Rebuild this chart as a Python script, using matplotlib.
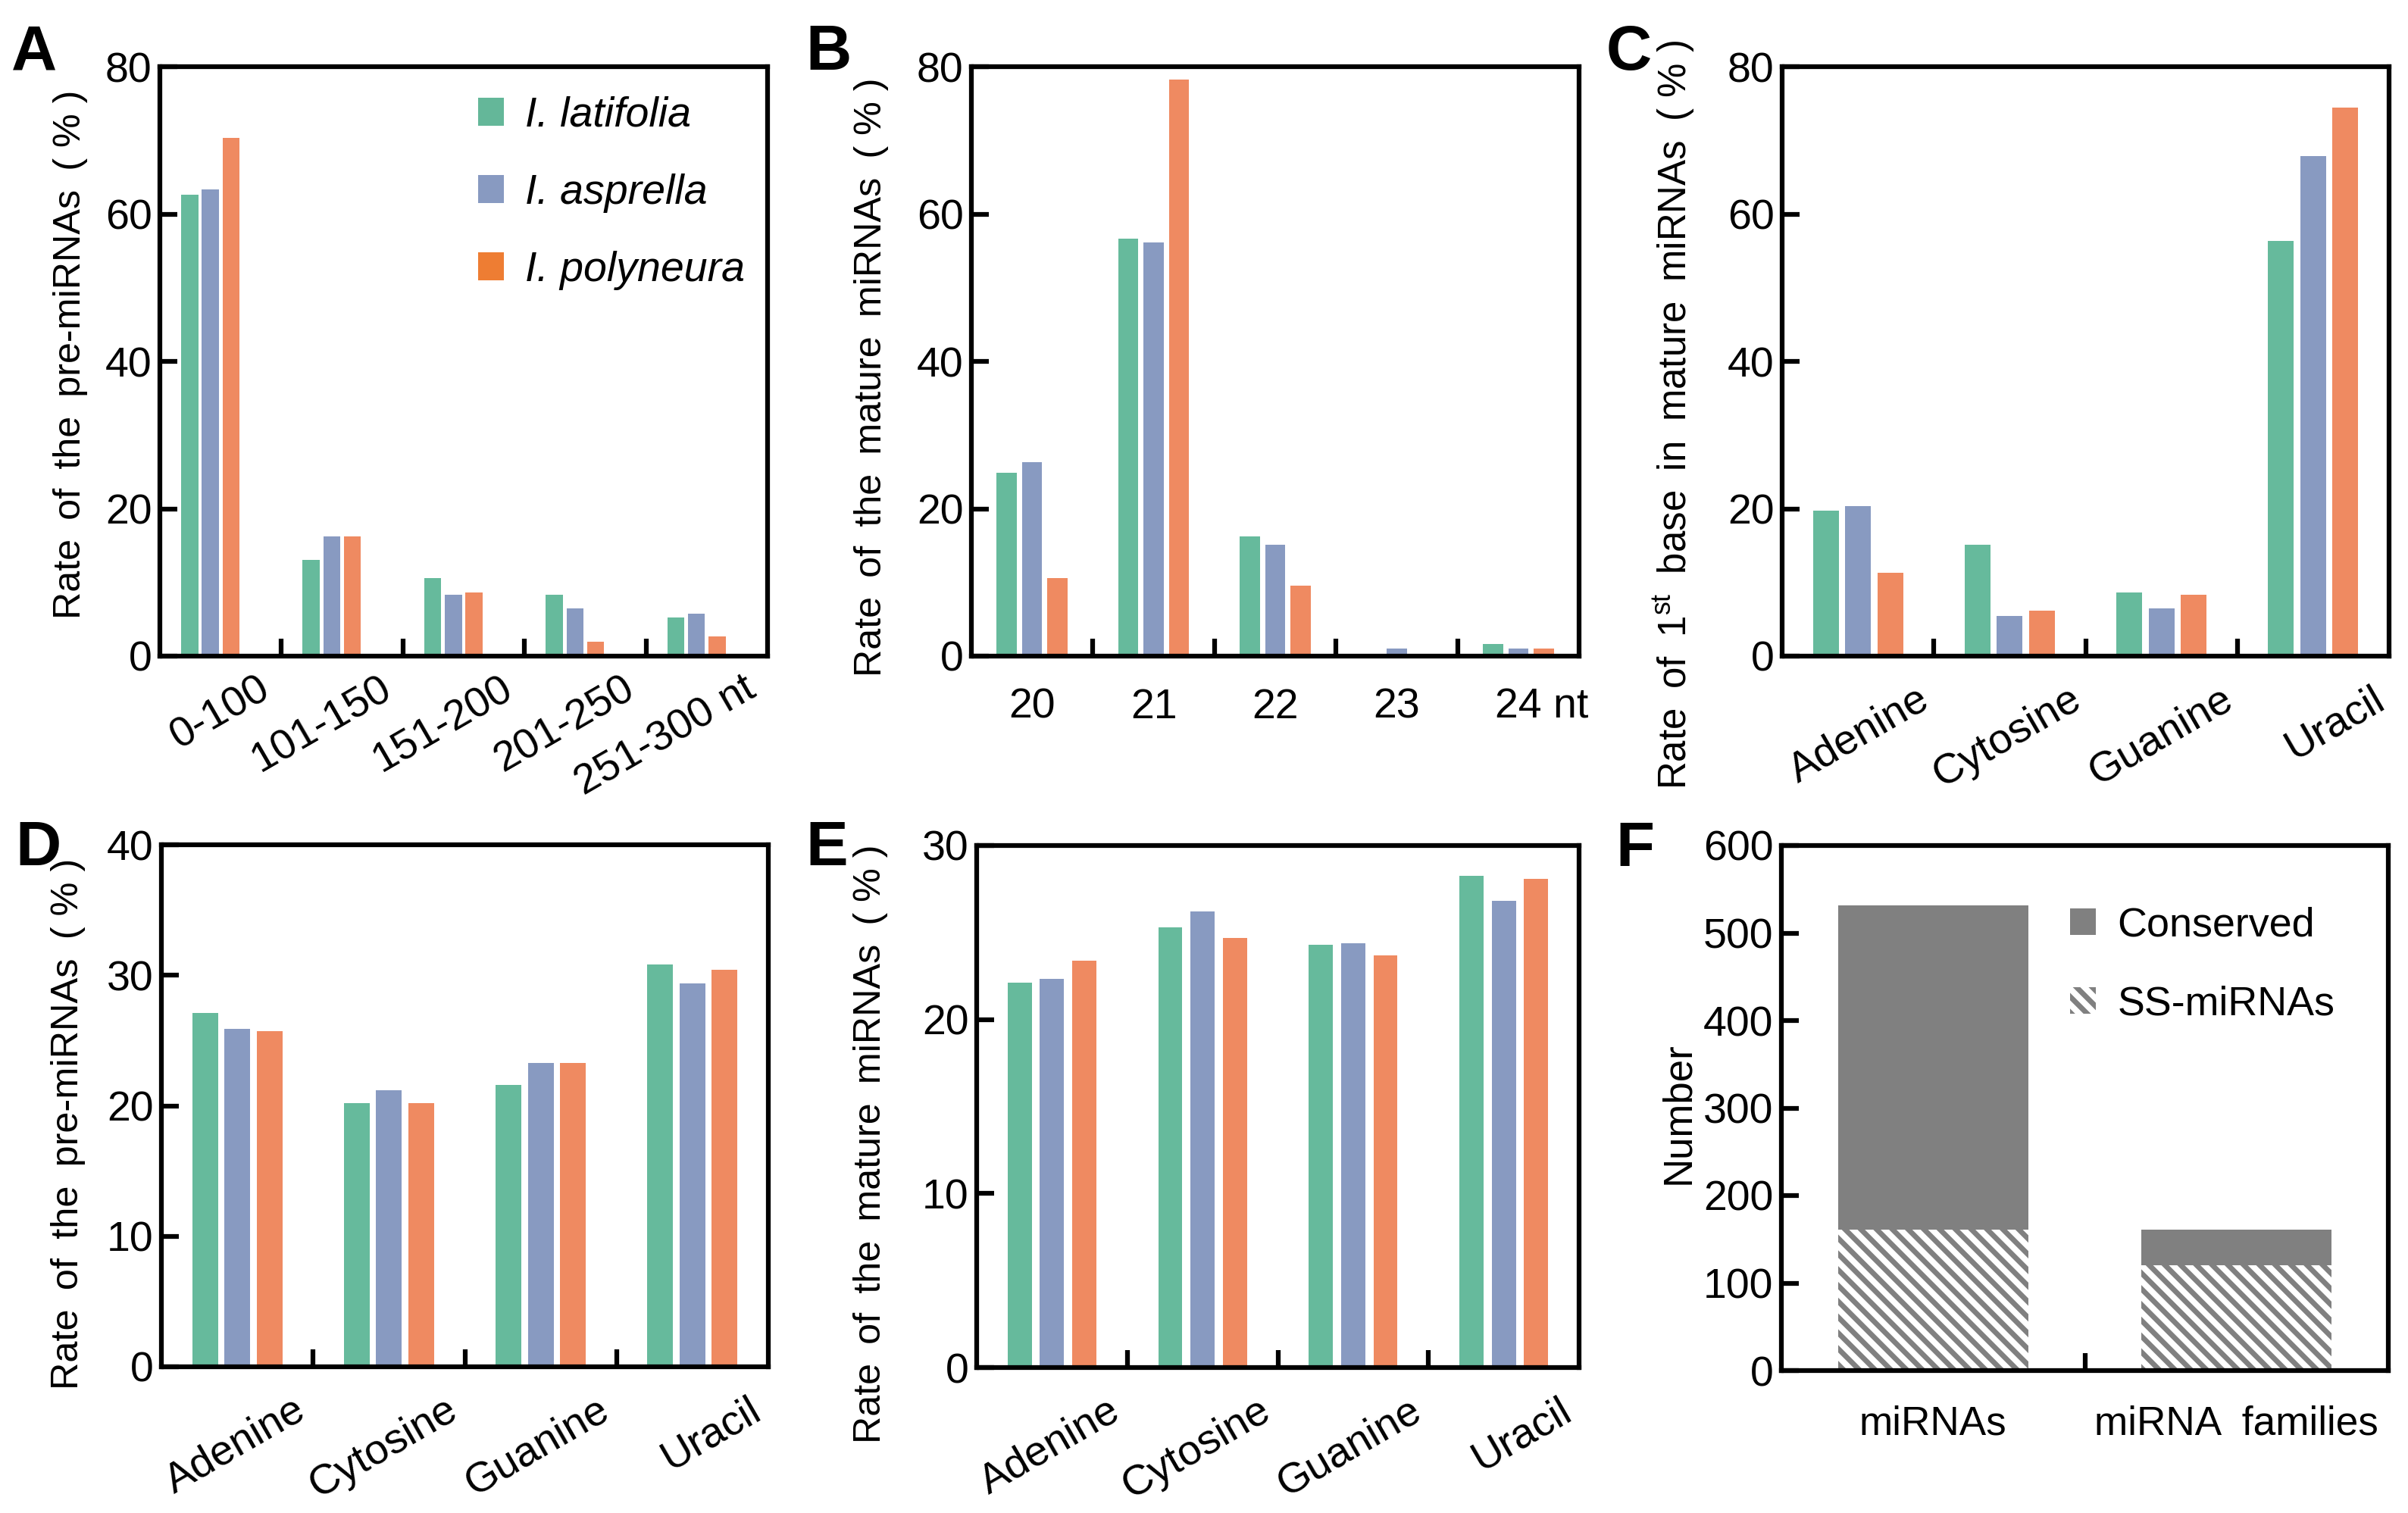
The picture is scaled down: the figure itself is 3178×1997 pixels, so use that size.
import numpy as np
import matplotlib
matplotlib.use("Agg")
import matplotlib.pyplot as plt
from matplotlib.patches import Patch
from matplotlib.transforms import ScaledTranslation
from matplotlib import font_manager as fm

plt.rcParams['font.family'] = ['Liberation Sans', 'DejaVu Sans']
plt.rcParams['mathtext.fontset'] = 'custom'
plt.rcParams['mathtext.rm'] = 'Liberation Sans'
plt.rcParams['mathtext.it'] = 'Liberation Sans:italic'
plt.rcParams['mathtext.bf'] = 'Liberation Sans:bold'
plt.rcParams['hatch.linewidth'] = 2.0

_names = {f.name for f in fm.fontManager.ttflist}
YL_FAMILY = 'Liberation Sans Narrow' if 'Liberation Sans Narrow' in _names else 'Liberation Sans'

# ---------------- data ----------------
species = ['I. latifolia', 'I. asprella', 'I. polyneura']

a_cats = ['0-100', '101-150', '151-200', '201-250', '251-300 nt']
a_lat = [62.6, 13.1, 10.6, 8.3, 5.2]
a_asp = [63.3, 16.2, 8.3, 6.5, 5.8]
a_pol = [70.3, 16.2, 8.6, 2.0, 2.7]

b_cats = ['20', '21', '22', '23', '24 nt']
b_lat = [24.9, 56.7, 16.2, 0.0, 1.6]
b_asp = [26.3, 56.1, 15.1, 1.0, 1.0]
b_pol = [10.6, 78.3, 9.6, 0.0, 1.0]

bases = ['Adenine', 'Cytosine', 'Guanine', 'Uracil']
c_lat = [19.7, 15.1, 8.6, 56.4]
c_asp = [20.4, 5.5, 6.5, 67.9]
c_pol = [11.3, 6.2, 8.3, 74.4]

d_lat = [27.1, 20.2, 21.6, 30.8]
d_asp = [25.9, 21.2, 23.3, 29.4]
d_pol = [25.7, 20.2, 23.3, 30.4]

e_lat = [22.1, 25.3, 24.3, 28.25]
e_asp = [22.35, 26.2, 24.4, 26.8]
e_pol = [23.4, 24.7, 23.7, 28.1]

f_cats = ['miRNAs', 'miRNA  families']
f_ss = [161, 120]
f_conserved = [371, 41]
f_legend = ['Conserved', 'SS-miRNAs']

SP = '\u2002'
ylab_pre = SP.join(['Rate', 'of', 'the', 'pre-miRNAs', '( % )'])
ylab_mat = SP.join(['Rate', 'of', 'the', 'mature', 'miRNAs', '( % )'])
ylab_first = SP.join(['Rate', 'of', r'1$^{\mathrm{st}}$', 'base', 'in', 'mature', 'miRNAs', '( % )'])

# ---------------- style ----------------
bar_colors = ['#66BA9C', '#889AC1', '#EF8A61']
leg_colors = ['#64B799', '#889AC1', '#EE7D33']
dark_gray = '#808080'
HATCH = '\\\\\\\\'
FS = 16
W, H = 3178, 1997
DPI = 250

fig = plt.figure(figsize=(W / DPI, H / DPI), dpi=DPI)


def ax_at(l, t, r, b):
    return fig.add_axes([l / W, 1 - b / H, (r - l) / W, (b - t) / H])


def style(ax, n, ymax, ystep, pad, catfs=FS):
    for s in ax.spines.values():
        s.set_linewidth(1.8)
    ax.set_xlim(-0.5, n - 0.5)
    ax.set_ylim(0, ymax)
    ax.set_yticks(np.arange(0, ymax + ystep / 2, ystep))
    ax.set_xticks(np.arange(n - 1) + 0.5)
    ax.set_xticklabels([])
    ax.tick_params(which='major', direction='in', length=6.5, width=1.8,
                   labelsize=FS, pad=3)
    ax.tick_params(axis='x', which='minor', length=0, labelsize=catfs, pad=pad)


def set_cat_labels(ax, cats, lab_off, rot):
    x = np.arange(len(cats))
    ax.set_xticks(x + lab_off, cats, minor=True)
    if rot:
        for lab in ax.get_xticklabels(minor=True):
            lab.set_rotation(rot)
            lab.set_ha('right')
            lab.set_rotation_mode('anchor')


def grouped(ax, series, width, step, center_shift):
    n = len(series[0])
    x = np.arange(n)
    for j, (vals, c) in enumerate(zip(series, bar_colors)):
        ax.bar(x + (j - 1 + center_shift) * step, vals, width, color=c, linewidth=0)


def ylab(ax, text, xc, yc, family=YL_FAMILY, size=16):
    ax.set_ylabel(text, fontsize=size, family=family)
    ax.yaxis.set_label_coords(xc, yc)


# ---------------- A ----------------
axA = ax_at(211, 88, 1013, 866)
grouped(axA, [a_lat, a_asp, a_pol], 0.14, 0.17, -0.5)
style(axA, 5, 80, 20, 5)
set_cat_labels(axA, a_cats, 0.3, 30)
ylab(axA, ylab_pre, -0.118, 0.512)
handles = [Patch(facecolor=c, edgecolor='none') for c in leg_colors]
axA.legend(handles, species, loc='upper left', bbox_to_anchor=(0.524, 0.95),
           frameon=False, prop=dict(family='Liberation Sans', style='italic', size=16),
           handlelength=0.6, handleheight=0.66, handletextpad=0.52,
           labelspacing=0.9, borderpad=0, borderaxespad=0)

# ---------------- B ----------------
axB = ax_at(1282, 88, 2084, 866)
grouped(axB, [b_lat, b_asp, b_pol], 0.165, 0.209, 0)
style(axB, 5, 80, 20, 12)
set_cat_labels(axB, b_cats, 0, 0)
lastB = axB.get_xticklabels(minor=True)[-1]
lastB.set_transform(lastB.get_transform() +
                    ScaledTranslation(8.9 / 72, 0, fig.dpi_scale_trans))
ylab(axB, ylab_mat, -0.136, 0.473)

# ---------------- C ----------------
axC = ax_at(2352, 88, 3153, 866)
grouped(axC, [c_lat, c_asp, c_pol], 0.17, 0.212, 0)
style(axC, 4, 80, 20, 9)
set_cat_labels(axC, bases, 0.385, 30)
ylab(axC, ylab_first, -0.141, 0.41)

# ---------------- D ----------------
axD = ax_at(213, 1115, 1014, 1804)
grouped(axD, [d_lat, d_asp, d_pol], 0.17, 0.212, 0)
style(axD, 4, 40, 10, 9)
set_cat_labels(axD, bases, 0.365, 30)
ylab(axD, ylab_pre, -0.125, 0.466)

# ---------------- E ----------------
axE = ax_at(1289, 1116, 2084, 1805)
grouped(axE, [e_lat, e_asp, e_pol], 0.16, 0.214, 0)
style(axE, 4, 30, 10, 9)
set_cat_labels(axE, bases, 0.365, 30)
ylab(axE, ylab_mat, -0.147, 0.428)

# ---------------- F ----------------
axF = ax_at(2351, 1116, 3152, 1809)
xF = np.arange(len(f_cats))
axF.bar(xF, f_ss, 0.626, color='white', edgecolor=dark_gray, hatch=HATCH, linewidth=0)
axF.bar(xF, f_conserved, 0.626, bottom=f_ss, color=dark_gray, linewidth=0)
style(axF, 2, 600, 100, 13, catfs=15.3)
set_cat_labels(axF, f_cats, 0, 0)
ylab(axF, 'Number', -0.139, 0.49, family='Liberation Sans', size=15.2)
fh = [Patch(facecolor=dark_gray, edgecolor='none'),
      Patch(facecolor='white', edgecolor=dark_gray, hatch=HATCH, linewidth=0)]
axF.legend(fh, f_legend, loc='upper left', bbox_to_anchor=(0.476, 0.884),
           frameon=False, prop=dict(family='Liberation Sans', size=15.5),
           handlelength=0.62, handleheight=0.62, handletextpad=0.53,
           labelspacing=1.0, borderpad=0, borderaxespad=0)

# ---------------- panel letters ----------------
for letter, (px, py) in zip('ABCDEF', [(15, 92), (1063, 92), (2120, 92),
                                       (20, 1142), (1063, 1142), (2132, 1143)]):
    fig.text(px / W, 1 - py / H, letter, fontsize=24, fontweight='bold',
             ha='left', va='baseline')

# fit long y-labels to the lengths seen in the original figure (pixels)
fig.canvas.draw()
renderer = fig.canvas.get_renderer()
for ax, target in [(axA, 698), (axB, 791), (axC, 988), (axD, 701), (axE, 791)]:
    lab = ax.yaxis.label
    length = lab.get_window_extent(renderer).height
    lab.set_fontsize(lab.get_fontsize() * target / length)

fig.savefig('out.png', dpi=DPI)
